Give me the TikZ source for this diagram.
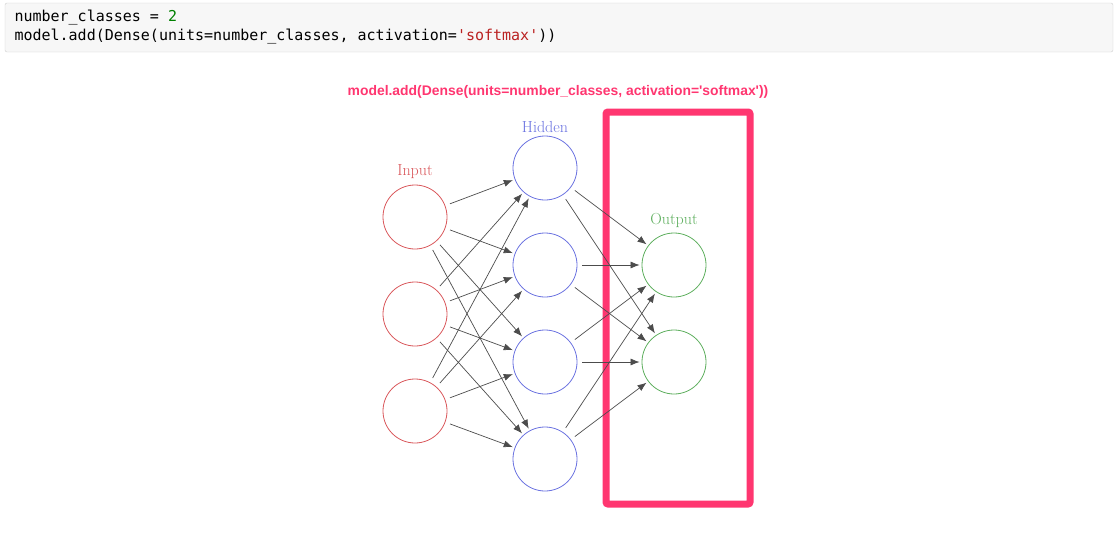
\documentclass[tikz,border=0pt]{standalone}
\usepackage{fontspec}
\setmonofont{DejaVu Sans Mono}
\newfontfamily\labelfont{Liberation Sans}
\usetikzlibrary{arrows.meta}
\definecolor{cellgray}{HTML}{F7F7F7}
\definecolor{cellline}{HTML}{CFCFCF}
\definecolor{numgreen}{HTML}{008000}
\definecolor{strred}{HTML}{BA2121}
\definecolor{hotpink}{HTML}{FF3670}
\definecolor{inred}{HTML}{D9575B}
\definecolor{hidblue}{HTML}{6A72E0}
\definecolor{outgreen}{HTML}{5DAE5D}
\begin{document}
\begin{tikzpicture}[x=1pt,y=-1pt,
    neuron/.style={circle, minimum size=64pt, inner sep=0pt, line width=0.8pt},
    layerlabel/.style={font=\fontsize{16}{18}\selectfont},
    conn/.style={-{Latex[length=9pt,width=7pt]}, draw=black!70, line width=0.7pt,
      shorten <=5pt, shorten >=2pt}]
    \useasboundingbox (0,0) rectangle (1120,541);
    % Code cell
    \draw[cellline, fill=cellgray, rounded corners=2pt] (5,3) rectangle (1113,52);
    \node[anchor=west, font=\ttfamily\fontsize{15}{17}\selectfont] (line1) at (11,18)
      {number\_classes = \textcolor{numgreen}{2}};
    \node[anchor=west, font=\ttfamily\fontsize{15}{17}\selectfont] (line2) at (11,37)
      {model.add(Dense(units=number\_classes, activation=\textcolor{strred}{'softmax'}))};
    % Highlight
    \node[font=\labelfont\bfseries\fontsize{13.9}{15}\selectfont, text=hotpink] (note) at (558,92)
      {model.add(Dense(units=number\_classes, activation='softmax'))};
    \draw[hotpink, line width=7pt, rounded corners=2pt] (606,112) rectangle (750,504);
    % Input layer
    \node[neuron, draw=inred] (i1) at (415,217) {};
    \node[neuron, draw=inred] (i2) at (415,314) {};
    \node[neuron, draw=inred] (i3) at (415,411) {};
    \node[layerlabel, text=inred] (inlabel) at (415,172) {Input};
    % Hidden layer
    \node[neuron, draw=hidblue] (h1) at (545,168) {};
    \node[neuron, draw=hidblue] (h2) at (545,265) {};
    \node[neuron, draw=hidblue] (h3) at (545,362) {};
    \node[neuron, draw=hidblue] (h4) at (545,459) {};
    \node[layerlabel, text=hidblue] (hidlabel) at (545,127) {Hidden};
    % Output layer
    \node[neuron, draw=outgreen] (o1) at (674,265) {};
    \node[neuron, draw=outgreen] (o2) at (674,362) {};
    \node[layerlabel, text=outgreen] (outlabel) at (674,220) {Output};
    % Input to hidden
    \draw[conn] (i1) -- (h1);
    \draw[conn] (i1) -- (h2);
    \draw[conn] (i1) -- (h3);
    \draw[conn] (i1) -- (h4);
    \draw[conn] (i2) -- (h1);
    \draw[conn] (i2) -- (h2);
    \draw[conn] (i2) -- (h3);
    \draw[conn] (i2) -- (h4);
    \draw[conn] (i3) -- (h1);
    \draw[conn] (i3) -- (h2);
    \draw[conn] (i3) -- (h3);
    \draw[conn] (i3) -- (h4);
    % Hidden to output
    \draw[conn] (h1) -- (o1);
    \draw[conn] (h1) -- (o2);
    \draw[conn] (h2) -- (o1);
    \draw[conn] (h2) -- (o2);
    \draw[conn] (h3) -- (o1);
    \draw[conn] (h3) -- (o2);
    \draw[conn] (h4) -- (o1);
    \draw[conn] (h4) -- (o2);
\end{tikzpicture}
\end{document}
